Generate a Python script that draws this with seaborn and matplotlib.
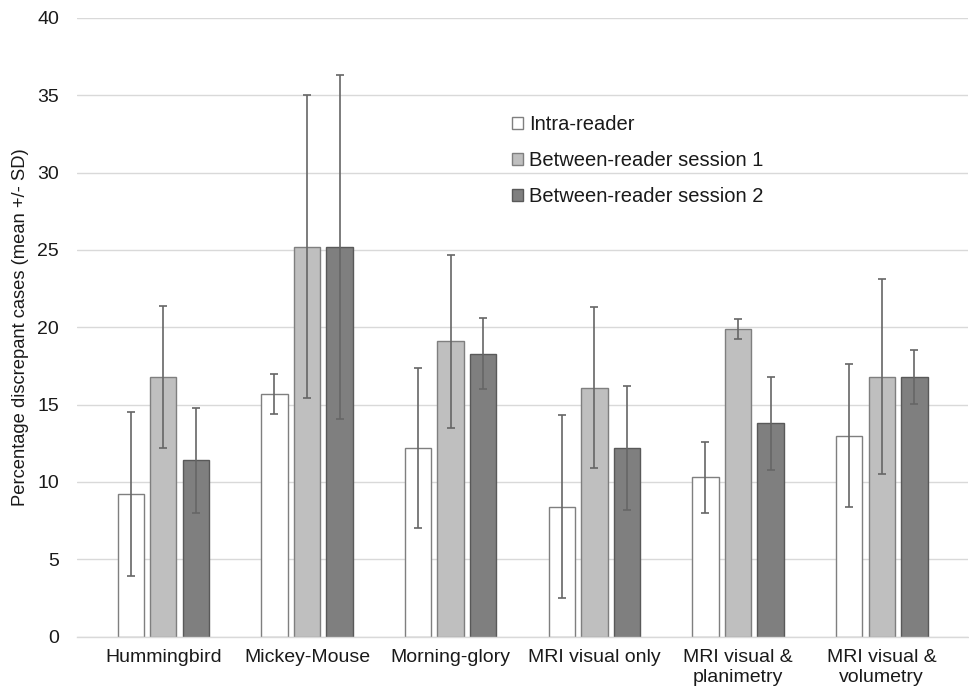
import pandas as pd
import numpy as np
import matplotlib
matplotlib.use("Agg")
import matplotlib.pyplot as plt
import seaborn as sns

# values
categories = ["Hummingbird", "Mickey-Mouse", "Morning-glory", "MRI visual only",
              "MRI visual &\nplanimetry", "MRI visual &\nvolumetry"]
series = ["Intra-reader", "Between-reader session 1", "Between-reader session 2"]

intra_mean = [9.2, 15.7, 12.2, 8.4, 10.3, 13.0]
intra_sd = [5.3, 1.3, 5.2, 5.9, 2.3, 4.6]
between1_mean = [16.8, 25.2, 19.1, 16.1, 19.9, 16.8]
between1_sd = [4.6, 9.8, 5.6, 5.2, 0.65, 6.3]
between2_mean = [11.4, 25.2, 18.3, 12.2, 13.8, 16.8]
between2_sd = [3.4, 11.1, 2.3, 4.0, 3.0, 1.75]

fills = ["#ffffff", "#bfbfbf", "#7f7f7f"]
edges = ["#7f7f7f", "#7f7f7f", "#595959"]

# long-form table for seaborn
rows = []
for s, means, sds in zip(series,
                         [intra_mean, between1_mean, between2_mean],
                         [intra_sd, between1_sd, between2_sd]):
    for c, m, sd in zip(categories, means, sds):
        rows.append({"category": c, "series": s, "mean": m, "sd": sd})
df = pd.DataFrame(rows)

sns.set_theme(style="white")
plt.rcParams["font.family"] = ["Liberation Sans", "DejaVu Sans"]

fig = plt.figure(figsize=(9.69, 6.95), dpi=100)
ax = fig.add_axes([77 / 969, 1 - 636.7 / 695, (968 - 77) / 969, (636.7 - 17.9) / 695])

sns.barplot(data=df, x="category", y="mean", hue="series", hue_order=series,
            order=categories, palette=fills, width=0.68, gap=0.19,
            errorbar=None, linewidth=1.0, ax=ax)

# edges + error bars per series (copy list: errorbar adds containers)
bar_conts = list(ax.containers)
for i, cont in enumerate(bar_conts):
    sub = df[df["series"] == series[i]].set_index("category").loc[categories]
    xs, hs = [], []
    for bar in cont.patches:
        bar.set_edgecolor(edges[i])
        bar.set_linewidth(1.0)
        xs.append(bar.get_x() + bar.get_width() / 2)
        hs.append(bar.get_height())
    ax.errorbar(xs, hs, yerr=sub["sd"].values, fmt="none", ecolor="#666666",
                elinewidth=1.2, capsize=2.6, capthick=1.2, zorder=5)

ax.set_ylim(0, 40)
ax.set_yticks(np.arange(0, 41, 5))
ax.yaxis.grid(True, color="#d9d9d9", linewidth=1.0)
ax.set_axisbelow(True)
for side in ["top", "right", "left"]:
    ax.spines[side].set_visible(False)
ax.spines["bottom"].set_color("#d9d9d9")
ax.spines["bottom"].set_linewidth(1.0)

ax.tick_params(axis="both", length=0, labelsize=14, colors="#1a1a1a")
ax.tick_params(axis="y", pad=13)
ax.tick_params(axis="x", pad=9)
ax.set_xlabel("")
ax.set_ylabel("Percentage discrepant cases (mean +/- SD)", fontsize=13.2,
              color="#1a1a1a", labelpad=6)

ax.get_legend().remove()
fig.legend(bar_conts, series, loc="upper left",
           bbox_to_anchor=(502 / 969, 1 - 105 / 695), frameon=False,
           fontsize=14.5, handlelength=0.55, handleheight=0.55,
           handletextpad=0.3, labelspacing=0.85, borderpad=0,
           labelcolor="#1a1a1a")

fig.savefig("out.png", dpi=100)
